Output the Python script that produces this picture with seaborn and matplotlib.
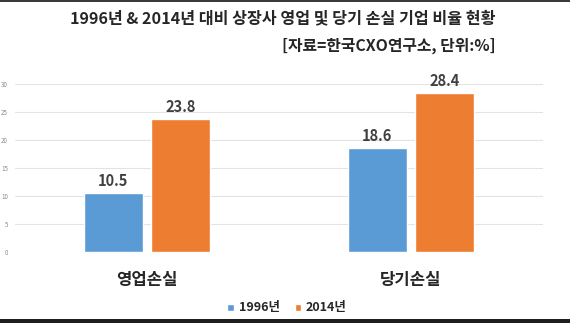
import matplotlib
matplotlib.use("Agg")
import matplotlib.pyplot as plt
import seaborn as sns
import pandas as pd

categories = ["영업손실", "당기손실"]
years = ["1996년", "2014년"]
values_1996 = [10.5, 18.6]
values_2014 = [23.8, 28.4]
yticks = [0, 5, 10, 15, 20, 25, 30]
title = "1996년 & 2014년 대비 상장사 영업 및 당기 손실 기업 비율 현황"
subtitle = "[자료=한국CXO연구소, 단위:%]"

df = pd.DataFrame({
    "category": categories * 2,
    "year": [years[0]] * 2 + [years[1]] * 2,
    "value": values_1996 + values_2014,
})

sns.set_style("white")
plt.rcParams["font.family"] = ["Noto Sans CJK KR", "DejaVu Sans"]

fig = plt.figure(figsize=(5.70, 3.23), dpi=100)
ax = fig.add_axes([15/570, 1 - 252/323, (543-15)/570, (252-84)/323])

palette = {"1996년": "#5B9BD5", "2014년": "#ED7D31"}
sns.barplot(data=df, x="category", y="value", hue="year", order=categories,
            hue_order=years, palette=palette, width=0.51, gap=0.12,
            saturation=1, ax=ax, legend=False)

ax.set_ylim(0, 30)
ax.set_yticks(yticks)
ax.set_yticklabels([str(t) for t in yticks], fontsize=4.5, color="#8C8C8C")
ax.tick_params(axis="y", length=0, pad=5)
ax.tick_params(axis="x", length=0, pad=14)
for lbl in ax.get_xticklabels():
    lbl.set_fontsize(12)
    lbl.set_fontweight("bold")
    lbl.set_color("#262626")
ax.set_xlabel("")
ax.set_ylabel("")
ax.grid(axis="y", color="#E3E3E3", linewidth=0.8)
ax.set_axisbelow(True)
for s in ax.spines.values():
    s.set_visible(False)

for c in ax.containers:
    ax.bar_label(c, fmt="%.1f", padding=3, fontsize=10.5, fontweight="bold",
                 color="#404040")

fig.text(496/570, 1 - 18/323, title, ha="right", va="center", fontsize=11.6,
         fontweight="bold", color="#262626")
fig.text(496/570, 1 - 46/323, subtitle, ha="right", va="center", fontsize=11.4,
         fontweight="bold", color="#262626")

# legend
from matplotlib.patches import Patch
handles = [Patch(facecolor=palette[y]) for y in years]
fig.legend(handles, years, loc="center", bbox_to_anchor=(287/570, 1 - 308/323),
           ncol=2, frameon=False, handlelength=0.5, handleheight=0.5,
           handletextpad=0.4, columnspacing=1.2,
           prop={"weight": "bold", "size": 9, "family": ["Noto Sans CJK KR", "DejaVu Sans"]})

# image borders
from matplotlib.patches import Rectangle
fig.patches.append(Rectangle((0, 1 - 2/323), 1, 2/323, transform=fig.transFigure,
                             facecolor="#3A3A3A", edgecolor="none"))
fig.patches.append(Rectangle((0, 0), 1, 4.5/323, transform=fig.transFigure,
                             facecolor="#1E1E1E", edgecolor="none"))

fig.savefig("out.png", dpi=100)
